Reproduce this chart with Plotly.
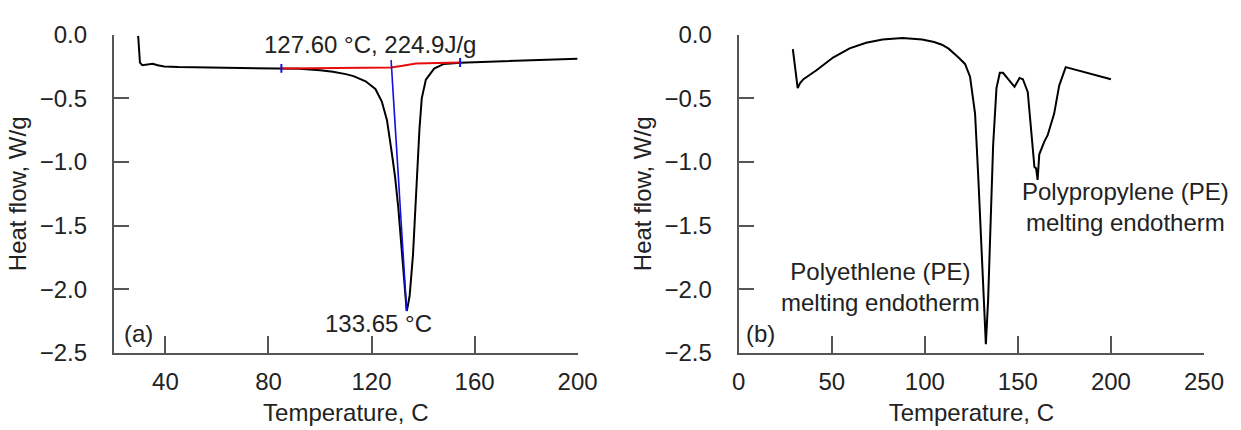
import plotly.graph_objects as go

# ---- Panel (a): DSC trace of PE with baseline / onset construction ----
temp_a = [29.4, 29.8, 30.1, 31.0, 32.5, 35.0, 37.0, 39.5, 45, 58, 70, 84, 92, 100,
          105, 110, 113, 117.7, 121.5, 124.0, 126.0, 127.8, 129.1, 130.4, 131.6,
          132.7, 133.3, 133.65, 134.1, 134.8, 136.1, 137.3, 138.6, 139.5, 141.1,
          144.3, 148.1, 154.4, 165, 178.5, 190, 200]
flow_a = [-0.01, -0.15, -0.22, -0.24, -0.235, -0.228, -0.24, -0.25, -0.255, -0.257,
          -0.262, -0.266, -0.268, -0.28, -0.292, -0.31, -0.326, -0.366, -0.427,
          -0.525, -0.672, -0.918, -1.11, -1.36, -1.65, -1.95, -2.12, -2.17, -2.13,
          -2.05, -1.73, -1.24, -0.745, -0.5, -0.353, -0.267, -0.23, -0.22, -0.214,
          -0.206, -0.197, -0.189]

base_t = [85, 127.6, 132, 137.3, 154.4]
base_f = [-0.265, -0.258, -0.245, -0.226, -0.219]

onset_t = [127.60, 133.65]
onset_f = [-0.20, -2.17]

limit_t = [85, 154.4]
limit_f = [-0.265, -0.219]

# ---- Panel (b): DSC trace of PE/PP blend ----
temp_b = [29.1, 30.5, 31.7, 33, 34.8, 41.8, 50.7, 59.6, 68.5, 77.3, 88, 98.6, 105,
          109.2, 112.8, 118.1, 121.6, 124.3, 127, 128.7, 130.5, 131.9, 132.8, 134,
          135.5, 136.7, 138.5, 140.3, 142, 145.6, 148.2, 150.9, 152.7, 155.3, 157.1,
          158.9, 159.8, 160.6, 161.5, 164.2, 166, 169.5, 172.2, 175.7, 200]
flow_b = [-0.113, -0.3, -0.42, -0.38, -0.35, -0.28, -0.18, -0.108, -0.064, -0.039,
          -0.027, -0.039, -0.058, -0.079, -0.11, -0.18, -0.23, -0.33, -0.62, -1.11,
          -1.73, -2.22, -2.43, -2.09, -1.48, -0.87, -0.42, -0.30, -0.30, -0.365,
          -0.41, -0.34, -0.35, -0.45, -0.745, -1.04, -1.05, -1.14, -0.94, -0.84,
          -0.79, -0.62, -0.40, -0.255, -0.35]

ticks_a = [40, 80, 120, 160, 200]
ticks_b = [0, 50, 100, 150, 200, 250]
ticks_y = [0.0, -0.5, -1.0, -1.5, -2.0, -2.5]
tick_text_y = ["0.0", "\u22120.5", "\u22121.0", "\u22121.5", "\u22122.0", "\u22122.5"]

FONT = "Liberation Sans, Arial, sans-serif"
FS = 24
TXT = "#222222"
AX = "#555555"

fig = go.Figure()

fig.add_trace(go.Scatter(x=temp_a, y=flow_a, mode="lines",
                         line=dict(color="black", width=2), xaxis="x", yaxis="y"))
fig.add_trace(go.Scatter(x=base_t, y=base_f, mode="lines",
                         line=dict(color="#e80c0c", width=2), xaxis="x", yaxis="y"))
fig.add_trace(go.Scatter(x=onset_t, y=onset_f, mode="lines",
                         line=dict(color="#1010e0", width=1.6), xaxis="x", yaxis="y"))
for t, f in zip(limit_t, limit_f):
    fig.add_trace(go.Scatter(x=[t, t], y=[f - 0.035, f + 0.035], mode="lines",
                             line=dict(color="#1010e0", width=2), xaxis="x", yaxis="y"))

fig.add_trace(go.Scatter(x=temp_b, y=flow_b, mode="lines",
                         line=dict(color="black", width=2), xaxis="x2", yaxis="y2"))

axis_common = dict(showgrid=False, zeroline=False, showline=True, linecolor=AX,
                   linewidth=2, ticks="inside", tickcolor=AX, tickwidth=1.5,
                   tickfont=dict(family=FONT, size=FS, color=TXT),
                   title_font=dict(family=FONT, size=FS, color=TXT))

xcommon = dict(ticklen=17, ticklabelstandoff=6,
               title=dict(text="Temperature, C", standoff=10), **axis_common)
ycommon = dict(range=[-2.5, 0.0], tickvals=ticks_y, ticktext=tick_text_y,
               ticklen=15, ticklabelstandoff=20,
               title=dict(text="Heat flow, W/g", standoff=6), **axis_common)

fig.update_layout(
    width=1241, height=430,
    margin=dict(l=0, r=0, t=0, b=0),
    paper_bgcolor="white", plot_bgcolor="white",
    showlegend=False,
    xaxis=dict(domain=[0.0881, 0.4700], range=[20, 200], tickvals=ticks_a,
               anchor="y", **xcommon),
    yaxis=dict(domain=[0.1588, 0.9488], anchor="x", **ycommon),
    xaxis2=dict(domain=[0.6027, 0.9860], range=[0, 250], tickvals=ticks_b,
                anchor="y2", **xcommon),
    yaxis2=dict(domain=[0.1588, 0.9488], anchor="x2", **ycommon),
)

annot_font = dict(family=FONT, size=FS, color=TXT)
fig.add_annotation(x=119.3, y=-0.08, xref="x", yref="y", showarrow=False,
                   text="127.60 \u00b0C, 224.9J/g", font=annot_font)
fig.add_annotation(x=122.8, y=-2.27, xref="x", yref="y", showarrow=False,
                   text="133.65 \u00b0C", font=annot_font)
fig.add_annotation(x=29.5, y=-2.35, xref="x", yref="y", showarrow=False,
                   text="(a)", font=annot_font)
fig.add_annotation(x=76, y=-1.98, xref="x2", yref="y2", showarrow=False,
                   text="Polyethlene (PE)<br>melting endotherm", font=annot_font,
                   align="center")
fig.add_annotation(x=208, y=-1.35, xref="x2", yref="y2", showarrow=False,
                   text="Polypropylene (PE)<br>melting endotherm", font=annot_font,
                   align="center")
fig.add_annotation(x=11.7, y=-2.35, xref="x2", yref="y2", showarrow=False,
                   text="(b)", font=annot_font)

fig.write_html("out.html")
